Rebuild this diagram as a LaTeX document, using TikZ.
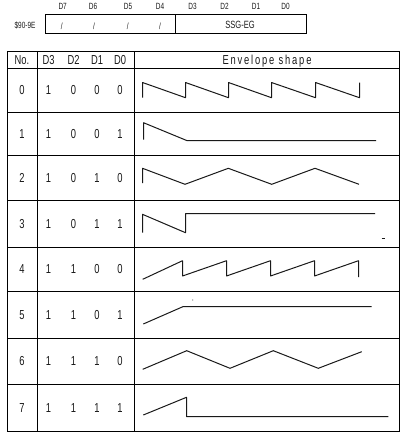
\documentclass[tikz,border=0pt]{standalone}
\usepackage{fontspec}
\newfontfamily\tfont[FakeStretch=0.72]{Liberation Sans}
\newfontfamily\tfontsp[FakeStretch=0.72,LetterSpace=14]{Liberation Sans}
\begin{document}
\begin{tikzpicture}[x=1pt,y=-1pt,
  grid/.style={line width=1pt,black},
  wave/.style={line width=1pt,black!90,line join=round},
  lbl/.style={font=\tfont\fontsize{13}{13}\selectfont,inner sep=0pt,text=black!90,text height=9.3pt,text depth=0pt},
  toplbl/.style={font=\tfont\fontsize{9}{9}\selectfont,inner sep=0pt,text=black!90,text height=6.5pt,text depth=0pt},
  midlbl/.style={font=\tfont\fontsize{10.5}{10.5}\selectfont,inner sep=0pt,text=black!90,text height=7.5pt,text depth=0pt}]
\useasboundingbox (0,0) rectangle (406,437);
% register box
\draw[grid] (45.5,14.5) rectangle (306.5,33.5);
\draw[grid] (175.5,14.5) -- (175.5,33.5);
\node[toplbl] (reg) at (25,25) {\$90-9E};
\foreach \n/\x in {7/62.7,6/93,5/128,4/160,3/192.5,2/224.5,1/256,0/285.5}
  \node[toplbl] (bit\n) at (\x,6) {D\n};
\foreach \n/\x in {7/61.7,6/94,5/127.7,4/160}
  \node[toplbl] (sl\n) at (\x,26) {/};
\node[midlbl] (ssg) at (240,24.5) {SSG-EG};
% table
\draw[grid] (7.5,51.5) rectangle (399.5,431.5);
\draw[grid] (37.5,51.5) -- (37.5,431.5);
\draw[grid] (134.5,51.5) -- (134.5,431.5);
\foreach \y in {68.5,112.5,155.5,200.5,247.5,291.5,338.5,384.5}
  \draw[grid] (7.5,\y) -- (399.5,\y);
\node[lbl] (hno) at (22,59.5) {No.};
\node[lbl] (hd3) at (48.5,59.5) {D3};
\node[lbl] (hd2) at (73.5,59.5) {D2};
\node[lbl] (hd1) at (97,59.5) {D1};
\node[lbl] (hd0) at (120,59.5) {D0};
\node[lbl,font=\tfontsp\fontsize{13}{13}\selectfont] (henv) at (267,59.5) {Envelope shape};
\foreach \i/\y/\b/\c/\d in {0/90/0/0/0,1/133.5/0/0/1,2/177.5/0/1/0,3/223.5/0/1/1,
  4/269/1/0/0,5/314.5/1/0/1,6/361/1/1/0,7/407.5/1/1/1}{
  \node[lbl] (r\i no) at (22,\y) {\i};
  \node[lbl] (r\i a) at (48.5,\y) {1};
  \node[lbl] (r\i b) at (73.5,\y) {\b};
  \node[lbl] (r\i c) at (97,\y) {\c};
  \node[lbl] (r\i d) at (120,\y) {\d};
}
% envelopes
\draw[wave] (142.5,97.7) -- (142.5,82.5) -- (185.5,97.7) -- (185.5,82.5) -- (228.5,97.7) -- (228.5,82.5)
  -- (271.5,97.7) -- (271.5,82.5) -- (315.5,97.7) -- (315.5,82.5) -- (359.5,97.7) -- (359.5,82.5);
\draw[wave] (143.5,139.5) -- (143.5,122.7) -- (186.7,140.5) -- (376,140.5);
\draw[wave] (142.5,183) -- (142.5,168.3) -- (185,184.3) -- (228.3,168.3) -- (271.7,184.3)
  -- (315,168.3) -- (359,184.3);
\draw[wave] (142.5,232.7) -- (142.5,214.3) -- (185.5,232.7) -- (185.5,213.5) -- (375,213.5);
\draw[wave] (381.5,238.5) -- (385,238.5);
\draw[wave] (142.7,279.3) -- (182.5,260.7) -- (182.5,276) -- (226.5,260.7) -- (226.5,276)
  -- (270.5,260.7) -- (270.5,276) -- (314.5,260.7) -- (314.5,276) -- (358.5,260.7) -- (358.5,277);
\draw[wave] (143.3,324) -- (183.3,306.5) -- (371.7,306.5);
\fill[black!60] (192.7,300) circle (0.6pt);
\draw[wave] (142.7,369.3) -- (186.7,350.7) -- (230,368.3) -- (273.3,350.7) -- (318.3,368.3) -- (361.7,351.7);
\draw[wave] (143.3,415) -- (186.5,397.3) -- (186.5,416.5) -- (388.3,416.5);
\end{tikzpicture}
\end{document}
